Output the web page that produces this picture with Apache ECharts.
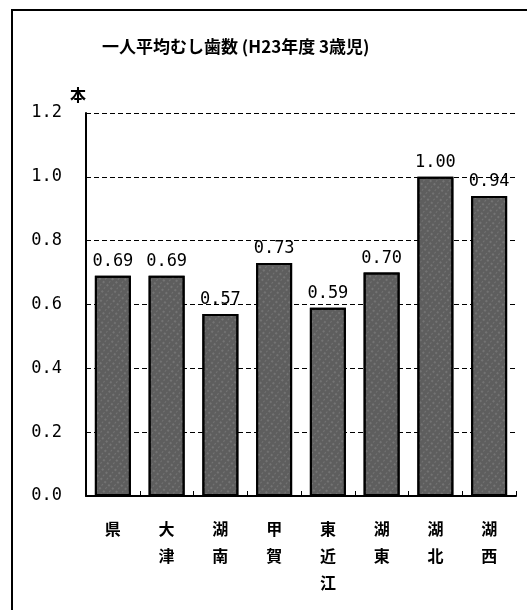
<!DOCTYPE html>
<html>
<head>
<meta charset="utf-8">
<script src="https://cdn.jsdelivr.net/npm/echarts@6/dist/echarts.min.js"></script>
<style>
  html, body { margin: 0; padding: 0; background: #fff; }
  #main { width: 527px; height: 610px; }
</style>
</head>
<body>
<div id="main"></div>
<script>
// 一人平均むし歯数 (H23年度 3歳児)
var areas = ['県', '大\n津', '湖\n南', '甲\n賀', '東\n近\n江', '湖\n東', '湖\n北', '湖\n西'];
var cavities = [0.69, 0.69, 0.57, 0.73, 0.59, 0.70, 1.00, 0.94];
var yTicks = [0, 0.2, 0.4, 0.6, 0.8, 1.0, 1.2];

(function(){

    var chart = echarts.init(document.getElementById('main'));
    var font = '"Noto Sans CJK JP", "Noto Sans", sans-serif';
    var mono = '"DejaVu Sans Mono", "Liberation Mono", monospace';

    var option = {
        backgroundColor: '#fff',
        textStyle: { fontFamily: font },
        title: {
            text: '一人平均むし歯数 (H23年度 3歳児)',
            left: 97,
            top: 33,
            textStyle: { fontSize: 17, fontWeight: 'bold', color: '#000', fontFamily: font }
        },
        graphic: [{
            type: 'rect',
            shape: { x: 12, y: 10, width: 520, height: 620 },
            style: { fill: 'none', stroke: '#000', lineWidth: 2 }
        }],
        grid: { left: 86, right: 11, top: 113, bottom: 114 },
        xAxis: {
            type: 'category',
            data: areas,
            axisLine: { lineStyle: { color: '#000', width: 2 } },
            axisTick: { show: true, inside: true, length: 5, lineStyle: { color: '#000' } },
            axisLabel: {
                color: '#000', fontSize: 16, fontWeight: 'bold',
                lineHeight: 27, margin: 19
            }
        },
        yAxis: {
            type: 'value',
            min: yTicks[0],
            max: yTicks[yTicks.length - 1],
            interval: 0.2,
            name: '本',
            nameLocation: 'end',
            nameGap: 10,
            nameTextStyle: { color: '#000', fontSize: 16, fontWeight: 'bold', align: 'right' },
            axisLine: { show: true, lineStyle: { color: '#000', width: 2 } },
            axisTick: { show: false },
            axisLabel: {
                color: '#000', fontSize: 17, margin: 24, fontFamily: mono,
                formatter: function (v) { return v.toFixed(1); }
            },
            splitLine: { lineStyle: { color: '#000', type: [5, 3], width: 1 } }
        },
        series: [{
            type: 'bar',
            data: cavities,
            barWidth: '67%',
            itemStyle: {
                color: '#5e5e5e',
                borderColor: '#000',
                borderWidth: 2,
                decal: {
                    symbol: 'rect',
                    symbolSize: 0.6,
                    dashArrayX: [[2, 3], [1, 4]],
                    dashArrayY: [2, 2],
                    color: 'rgba(215,215,215,0.6)',
                    rotation: 0.7
                }
            },
            label: {
                show: true,
                position: 'top',
                distance: 6,
                color: '#000',
                fontSize: 17,
                fontFamily: mono,
                formatter: function (p) { return p.value.toFixed(2); }
            }
        }]
    };

    chart.setOption(option);
})();
</script>
</body>
</html>
